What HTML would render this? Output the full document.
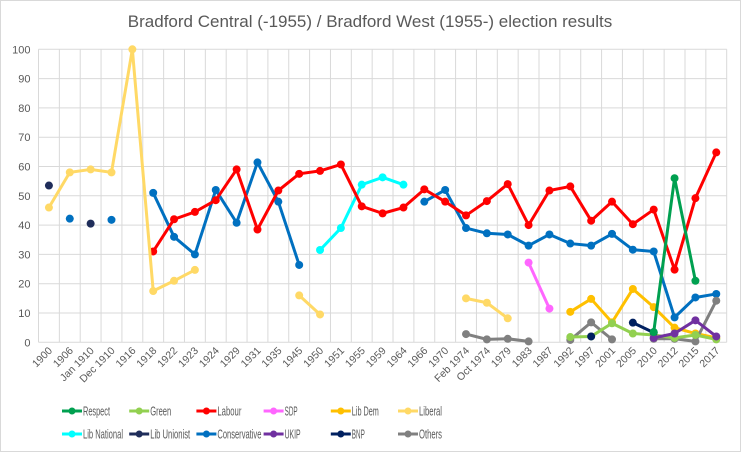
<!DOCTYPE html><html><head><meta charset="utf-8"><style>body{margin:0;background:#fff}svg{display:block;font-family:"Liberation Sans",sans-serif}</style></head><body>
<svg id="s" width="741" height="452" viewBox="0 0 741 452">
<rect x="0.5" y="0.5" width="740" height="451" fill="#fff" stroke="#d9d9d9"/>
<text x="370" y="27" text-anchor="middle" font-size="17" fill="#595959">Bradford Central (-1955) / Bradford West (1955-) election results</text>
<g id="g"></g>
</svg>
<script>
const L=38.5,R=726.7,T=49.3,B=342.3,n=33,w=(R-L)/n;
const X=i=>L+w*(i+.5),Y=v=>B-v*(B-T)/100;
const cats=["1900","1906","Jan 1910","Dec 1910","1916","1918","1922","1923","1924","1929","1931","1935","1945","1950","1951","1955","1959","1964","1966","1970","Feb 1974","Oct 1974","1979","1983","1987","1992","1997","2001","2005","2010","2012","2015","2017"];
let h='';
for(let v=0;v<=100;v+=10){h+=`<line x1="${L}" x2="${R}" y1="${Y(v)}" y2="${Y(v)}" stroke="#d9d9d9"/><text x="${L-8}" y="${Y(v)+4}" text-anchor="end" font-size="11" fill="#595959">${v}</text>`}
for(let i=0;i<=n;i++){const x=L+w*i;h+=`<line x1="${x}" x2="${x}" y1="${T}" y2="${B}" stroke="#d9d9d9"/>`}
cats.forEach((c,i)=>{h+=`<text transform="translate(${X(i)+4},${B+9}) rotate(-45)" text-anchor="end" font-size="10.5" fill="#595959">${c}</text>`});
const S=[
["Respect","#00a050",[[29,3.5],[30,56],[31,21]],27],
["Green","#92d050",[[25,1.8],[26,2],[27,6.5],[28,3],[29,2.5],[30,1.5],[31,2.5],[32,1]],21],
["Labour","#ff0000",[[5,31],[6,42],[7,44.5],[8,48.5],[9,59],[10,38.5],[11,51.8],[12,57.5],[13,58.5],[14,60.7],[15,46.4],[16,44],[17,46],[18,52.2],[19,48],[20,43.3],[21,48.2],[22,54],[23,40],[24,51.8],[25,53.2],[26,41.5],[27,48],[28,40.3],[29,45.3],[30,24.8],[31,49.2],[32,64.8]],24],
["SDP","#ff66ff",[[23,27.2],[24,11.5]],13],
["Lib Dem","#ffc000",[[25,10.4],[26,14.8],[27,6.8],[28,18.2],[29,12],[30,5],[31,3],[32,1.5]],27],
["Liberal","#ffd966",[[0,46],[1,58],[2,59],[3,58],[4,100],[5,17.5],[6,21],[7,24.7],null,[12,16],[13,9.5],null,[20,15],[21,13.5],[22,8.2]],23],
["Lib National","#00ffff",[[13,31.5],[14,39],[15,53.8],[16,56.3],[17,53.8]],40],
["Lib Unionist","#1f2d5a",[[0,53.5],null,[2,40.5]],40],
["Conservative","#0070c0",[[1,42.2],null,[3,41.8],null,[5,51],[6,36],[7,30],[8,52],[9,40.8],[10,61.4],[11,48],[12,26.4],null,[18,48],[19,52],[20,39],[21,37.2],[22,36.8],[23,33],[24,36.8],[25,33.7],[26,33],[27,37],[28,31.6],[29,31],[30,8.5],[31,15.3],[32,16.5]],44],
["UKIP","#7030a0",[[29,1.5],[30,3],[31,7.5],[32,2]],16],
["BNP","#002060",[[26,2],null,[28,6.7],[29,3.3]],13],
["Others","#808080",[[20,2.8],[21,1],[22,1.2],[23,0.3],null,[25,0.8],[26,6.8],[27,1],null,[29,1.2],[30,1.2],[31,0.3],[32,14.2]],23]];
const draw=[6,7,8,2,5,4,3,11,1,10,9,0].map(i=>S[i]);
draw.forEach(([nm,c,d])=>{let seg=[];const fl=()=>{if(seg.length>1)h+=`<polyline points="${seg.map(p=>X(p[0])+','+Y(p[1])).join(' ')}" fill="none" stroke="${c}" stroke-width="3" stroke-linejoin="round"/>`;seg=[]};
d.forEach(p=>{if(!p)fl();else seg.push(p)});fl();
d.forEach(p=>{if(p)h+=`<circle cx="${X(p[0])}" cy="${Y(p[1])}" r="4" fill="${c}"/>`})});
S.forEach(([nm,c,d,tw],k)=>{const col=k%6,row=k/6|0;const x=62+col*67.2,y=row?434:411;
h+=`<line x1="${x}" x2="${x+20}" y1="${y}" y2="${y}" stroke="${c}" stroke-width="3"/><circle cx="${x+10}" cy="${y}" r="3.5" fill="${c}"/><text x="${x+21}" y="${y+4.5}" font-size="12.5" fill="#595959" textLength="${tw}" lengthAdjust="spacingAndGlyphs">${nm}</text>`});
document.getElementById('g').innerHTML=h;
</script></body></html>
